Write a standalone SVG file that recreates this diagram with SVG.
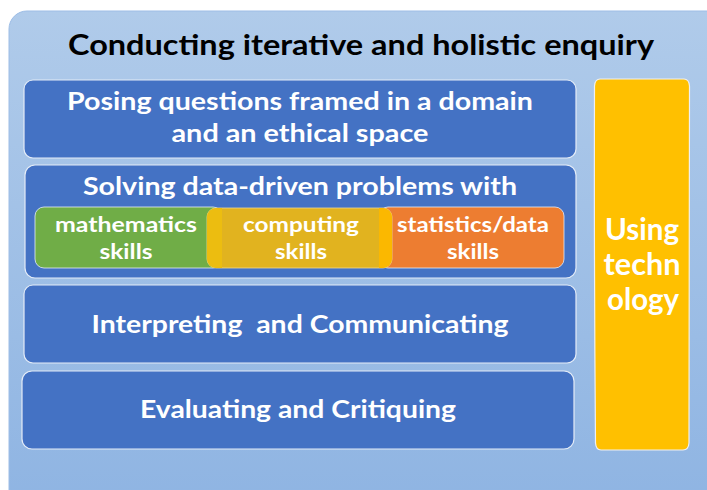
<svg xmlns="http://www.w3.org/2000/svg" width="707" height="490" viewBox="0 0 707 490">
<defs>
<linearGradient id="bg" x1="0" y1="0" x2="0" y2="1">
<stop offset="0" stop-color="#b0cbea"/>
<stop offset="1" stop-color="#8db3e2"/>
</linearGradient>
</defs>
<style>
.box{fill:#4472c4;stroke:#e4ecf7;stroke-width:1.2}
.t{font-family:Lato,"Open Sans",sans-serif;font-weight:bold;fill:#ffffff;text-anchor:middle}
.main{font-size:24.5px}
.sub{font-size:21.5px}
.col{font-size:30px}
.title{font-family:Lato,"Open Sans",sans-serif;font-weight:bold;font-size:28.5px;fill:#000000;text-anchor:middle}
</style>
<rect x="0" y="0" width="707" height="490" fill="#ffffff"/>
<rect id="background" x="9" y="11" width="740" height="520" rx="18" fill="url(#bg)" stroke="#9dbde6" stroke-width="1"/>
<text class="title" x="361" y="55" textLength="586" lengthAdjust="spacingAndGlyphs">Conducting iterative and holistic enquiry</text>

<g id="posing">
<rect class="box" x="24" y="80" width="552" height="78" rx="9"/>
<text class="t main" x="300" y="110" textLength="466" lengthAdjust="spacingAndGlyphs">Posing questions framed in a domain</text>
<text class="t main" x="300" y="142" textLength="257" lengthAdjust="spacingAndGlyphs">and an ethical space</text>
</g>

<g id="solving">
<rect class="box" x="25" y="165" width="551" height="113" rx="10"/>
<text class="t main" x="300" y="195" textLength="434" lengthAdjust="spacingAndGlyphs">Solving data-driven problems with</text>
</g>

<g id="mathematics">
<rect x="35" y="207" width="187" height="61" rx="9" fill="#70ad47" stroke="#e4ecf7" stroke-width="0.8"/>
<text class="t sub" x="126" y="232" textLength="142" lengthAdjust="spacingAndGlyphs">mathematics</text>
<text class="t sub" x="126" y="259" textLength="53" lengthAdjust="spacingAndGlyphs">skills</text>
</g>

<g id="statistics">
<rect x="379" y="207" width="185" height="61" rx="9" fill="#ed7d31" stroke="#e4ecf7" stroke-width="0.8"/>
<text class="t sub" x="473" y="232" textLength="152" lengthAdjust="spacingAndGlyphs">statistics/data</text>
<text class="t sub" x="473" y="259" textLength="52" lengthAdjust="spacingAndGlyphs">skills</text>
</g>

<g id="computing">
<rect x="207" y="208" width="185" height="60" rx="9" fill="#e1b31f" stroke="#efd890" stroke-width="0.8"/>
<path d="M216,208 H222 V268 H216 A9,9 0 0 1 207,259 V217 A9,9 0 0 1 216,208 Z" fill="#ecbd10"/>
<path d="M379,208 H383 A9,9 0 0 1 392,217 V259 A9,9 0 0 1 383,268 H379 Z" fill="#fbb800"/>
<text class="t sub" x="301" y="232" textLength="116" lengthAdjust="spacingAndGlyphs">computing</text>
<text class="t sub" x="301" y="259" textLength="52" lengthAdjust="spacingAndGlyphs">skills</text>
</g>

<g id="interpreting">
<rect class="box" x="24" y="285" width="552" height="78" rx="9"/>
<text class="t main" x="300" y="333" xml:space="preserve" textLength="417" lengthAdjust="spacingAndGlyphs">Interpreting  and Communicating</text>
</g>

<g id="evaluating">
<rect class="box" x="22" y="371" width="552" height="78" rx="10"/>
<text class="t main" x="298" y="418" textLength="316" lengthAdjust="spacingAndGlyphs">Evaluating and Critiquing</text>
</g>

<g id="technology">
<path d="M600,79 H684 Q689,79 689.5,86 Q690,265 689,443 Q688.5,450 683,450 H601 Q596,450 595.5,443 Q594,265 594.5,86 Q595,79 600,79 Z" fill="#ffc000" stroke="#f0f0f0" stroke-width="1.2"/>
<text class="t col" x="642" y="240" textLength="74" lengthAdjust="spacingAndGlyphs">Using</text>
<text class="t col" x="642" y="275" textLength="77" lengthAdjust="spacingAndGlyphs">techn</text>
<text class="t col" x="643" y="310" textLength="72" lengthAdjust="spacingAndGlyphs">ology</text>
</g>

<g id="connectors"></g>
</svg>
